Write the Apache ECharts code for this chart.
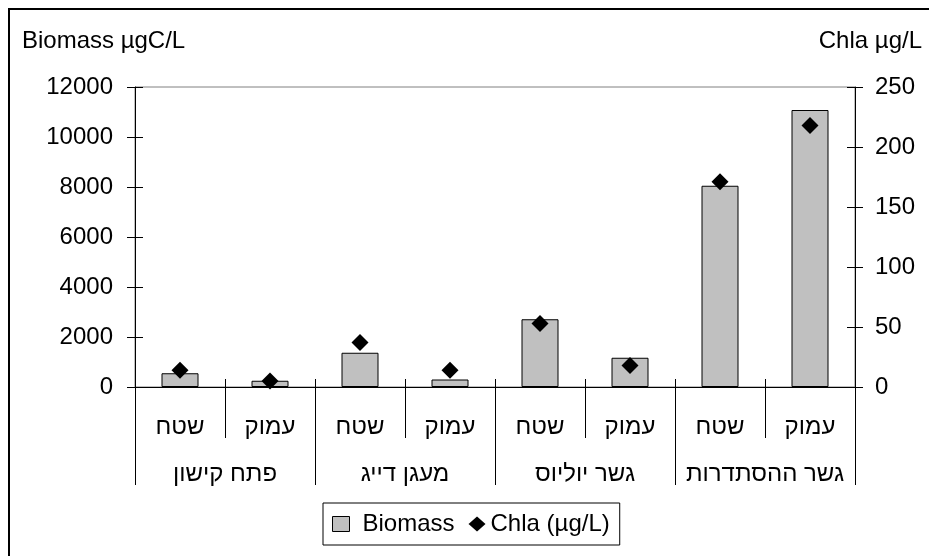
<!DOCTYPE html>
<html>
<head>
<meta charset="utf-8">
<script src="https://cdn.jsdelivr.net/npm/echarts@6/dist/echarts.min.js"></script>
<style>
  html, body { margin: 0; padding: 0; background: #fff; }
  #chart { width: 929px; height: 556px; }
</style>
</head>
<body>
<div id="chart"></div>
<script>
  // two level category axis: depth (inner) and station (outer)
  var depths = ['שטח', 'עמוק', 'שטח', 'עמוק', 'שטח', 'עמוק', 'שטח', 'עמוק'];
  var stations = ['פתח קישון', 'מעגן דייג', 'גשר יוליוס', 'גשר ההסתדרות'];
  var biomass = [550, 250, 1370, 300, 2710, 1170, 8050, 11080];
  var chla = [14, 5, 37, 14, 53, 18, 171, 218];

  var font = 'Liberation Sans, Arial, sans-serif';
  var fs = 24;

  var myChart = echarts.init(document.getElementById('chart'));
  var option = {
    animation: false,
    backgroundColor: '#fff',
    textStyle: { fontFamily: font },
    grid: {
      left: 135, right: 74, top: 87, bottom: 169,
      show: true, borderColor: '#808080', borderWidth: 1
    },
    graphic: [
      {
        type: 'rect', silent: true,
        shape: { x: 9, y: 9, width: 940, height: 570 },
        style: { fill: 'none', stroke: '#000', lineWidth: 2 }
      },
      {
        type: 'text', left: 22, top: 29,
        style: { text: 'Biomass µgC/L', font: fs + 'px ' + font, fill: '#000' }
      },
      {
        type: 'text', right: 7, top: 29,
        style: { text: 'Chla µg/L', font: fs + 'px ' + font, fill: '#000' }
      }
    ],
    legend: {
      left: 323, top: 503,
      padding: [9, 10, 9, 9],
      borderColor: '#000', borderWidth: 1,
      itemWidth: 17, itemHeight: 15, itemGap: 14,
      textStyle: { fontSize: fs, color: '#000', fontFamily: font },
      data: [
        { name: 'Biomass', icon: 'rect', itemStyle: { color: '#c0c0c0', borderColor: '#000', borderWidth: 1 },
          textStyle: { padding: [0, 0, 0, 8] } },
        { name: 'Chla (µg/L)', icon: 'diamond', itemStyle: { color: '#000' } }
      ]
    },
    xAxis: [
      {
        type: 'category', position: 'bottom', data: depths,
        axisLine: { lineStyle: { color: '#000', width: 1 } },
        axisTick: { show: true, inside: true, length: 8, interval: 0, lineStyle: { color: '#000' } },
        axisLabel: { interval: 0, margin: 28, fontSize: fs, color: '#000', fontFamily: font }
      },
      {
        type: 'category', position: 'bottom', data: depths,
        axisLine: { show: false },
        axisTick: { show: true, length: 51, interval: 0, lineStyle: { color: '#000' } },
        axisLabel: { show: false }
      },
      {
        type: 'category', position: 'bottom', data: stations,
        axisLine: { show: false },
        axisTick: { show: true, length: 98, interval: 0, lineStyle: { color: '#000' } },
        axisLabel: { interval: 0, margin: 75, fontSize: fs, color: '#000', fontFamily: font }
      }
    ],
    yAxis: [
      {
        type: 'value', position: 'left', min: 0, max: 12000, interval: 2000,
        axisLine: { show: true, lineStyle: { color: '#000' } },
        axisTick: { show: true, length: 8, lineStyle: { color: '#000' } },
        axisLabel: { margin: 22, fontSize: fs, color: '#000', fontFamily: font,
          formatter: function (v) { return String(v); } },
        splitLine: { show: false }
      },
      {
        type: 'value', position: 'right', min: 0, max: 250, interval: 50,
        axisLine: { show: true, lineStyle: { color: '#000' } },
        axisTick: { show: true, length: 8, lineStyle: { color: '#000' } },
        axisLabel: { margin: 20, fontSize: fs, color: '#000', fontFamily: font },
        splitLine: { show: false }
      },
      {
        // inner half of the crossing ticks
        type: 'value', position: 'left', min: 0, max: 12000, interval: 2000,
        axisLine: { show: false },
        axisTick: { show: true, inside: true, length: 8, lineStyle: { color: '#000' } },
        axisLabel: { show: false },
        splitLine: { show: false }
      },
      {
        type: 'value', position: 'right', min: 0, max: 250, interval: 50,
        axisLine: { show: false },
        axisTick: { show: true, inside: true, length: 8, lineStyle: { color: '#000' } },
        axisLabel: { show: false },
        splitLine: { show: false }
      }
    ],
    series: [
      {
        name: 'Biomass',
        type: 'bar',
        xAxisIndex: 0, yAxisIndex: 0,
        barWidth: 37,
        data: biomass,
        itemStyle: { color: '#c0c0c0', borderColor: '#000', borderWidth: 1 }
      },
      {
        name: 'Chla (µg/L)',
        type: 'scatter',
        xAxisIndex: 0, yAxisIndex: 1,
        symbol: 'diamond',
        symbolSize: 17,
        data: chla,
        itemStyle: { color: '#000', opacity: 1 }
      }
    ]
  };
  myChart.setOption(option);
</script>
</body>
</html>
